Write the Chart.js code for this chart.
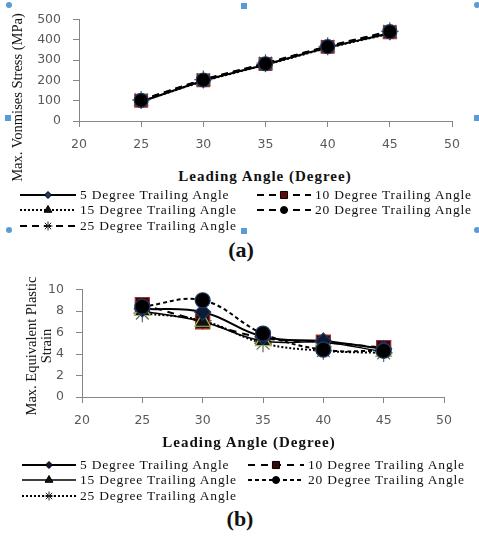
<!DOCTYPE html>
<html>
<head>
<meta charset="utf-8">
<script src="https://cdn.jsdelivr.net/npm/chart.js@4.4.1/dist/chart.umd.min.js"></script>
<style>
body { margin: 0; background: #fff; }
#fig { position: relative; width: 479px; height: 537px; overflow: hidden; font-family: "Liberation Serif", "Times New Roman", serif; color: #111; }
canvas.chart { position: absolute; left: 0; }
.ytitle { position: absolute; transform: rotate(-90deg); white-space: nowrap; font-size: 14.5px; text-align: center; line-height: 15px; }
.xtitle { position: absolute; font-weight: bold; font-size: 15px; letter-spacing: 1px; white-space: nowrap; transform: translate(-50%, -50%); }
.leg { position: absolute; height: 16px; display: flex; align-items: center; white-space: nowrap; font-size: 13.5px; letter-spacing: 0.8px; transform: translateY(-50%); }
.leg canvas { margin-right: 4px; }
.cap { position: absolute; font-weight: bold; font-size: 22px; transform: translate(-50%, -50%); }
.h { position: absolute; width: 6px; height: 6px; background: #5b9bd5; transform: translate(-50%, -50%); }
.h.c { border-radius: 50%; }
</style>
</head>
<body>
<div id="fig">
  <canvas id="chartA" class="chart" style="top:0" width="479" height="160"></canvas>
  <canvas id="chartB" class="chart" style="top:270px" width="479" height="165"></canvas>

  <div class="ytitle" style="left:-83px; top:90px; width:200px;">Max. Vonmises Stress (MPa)</div>
  <div class="ytitle" style="left:-41px; top:331px; width:160px; height:30px;">Max. Equivalent Plastic<br>Strain</div>
  <div class="xtitle" style="left:265px; top:176px;">Leading Angle (Degree)</div>
  <div class="xtitle" style="left:249px; top:442px;">Leading Angle (Degree)</div>

  <div id="legA"></div>
  <div id="legB"></div>

  <div class="cap" style="left:241px; top:250px;">(a)</div>
  <div class="cap" style="left:240px; top:519px;">(b)</div>

  <div class="h c" style="left:9px; top:5px;"></div>
  <div class="h" style="left:244px; top:6px;"></div>
  <div class="h c" style="left:477px; top:5px;"></div>
  <div class="h" style="left:8px; top:118px;"></div>
  <div class="h" style="left:477px; top:118px;"></div>
  <div class="h c" style="left:9px; top:230px;"></div>
  <div class="h" style="left:244px; top:231px;"></div>
  <div class="h c" style="left:477px; top:230px;"></div>
</div>

<script>
// data
const leadingAngle = [25, 30, 35, 40, 45];
const trailingNames = ["5 Degree Trailing Angle", "10 Degree Trailing Angle", "15 Degree Trailing Angle",
                       "20 Degree Trailing Angle", "25 Degree Trailing Angle"];

// (a) max von mises stress, MPa
const stress5  = [95, 198, 278, 362, 432];
const stress10 = [100, 200, 281, 365, 437];
const stress15 = [96, 196, 276, 360, 430];
const stress20 = [102, 202, 282, 366, 440];
const stress25 = [104, 204, 285, 368, 442];

// (b) max equivalent plastic strain
const strain5  = [8.2, 7.9, 5.6, 5.2, 4.5];
const strain10 = [8.6, 7.0, 5.5, 5.1, 4.6];
const strain15 = [8.0, 7.0, 5.2, 5.1, 4.2];
const strain20 = [8.4, 9.0, 5.9, 4.4, 4.3];
const strain25 = [7.8, 7.1, 5.0, 4.3, 4.1];

const xTicks = [20, 25, 30, 35, 40, 45, 50];
const stressTicks = [0, 100, 200, 300, 400, 500];
const strainTicks = [0, 2, 4, 6, 8, 10];

// line / marker styles
const stylesA = [
  { dash: [], width: 2, point: "rectRot", r: 6, fill: "#1f3864", edge: "#1f3864", order: 2 },
  { dash: [7, 5], width: 2, point: "rect", r: 9, fill: "#5e0b0b", edge: "#b03030", order: 3 },
  { dash: [2, 2], width: 2, point: "triangle", r: 8, fill: "#111", edge: "#9bbb59", order: 4 },
  { dash: [7, 5], width: 2, point: "circle", r: 7, fill: "#000", edge: "#1f3864", order: 0 },
  { dash: [7, 5], width: 2, point: "star", r: 9, fill: "#444", edge: "#555", order: 1 }
];
const stylesB = [
  { dash: [], width: 2, point: "rectRot", r: 8, fill: "#0d1a33", edge: "#1f3864", order: 1 },
  { dash: [7, 6], width: 2, point: "rect", r: 10, fill: "#3a0808", edge: "#a0302a", order: 3 },
  { dash: [], width: 1.5, point: "triangle", r: 9, fill: "#111", edge: "#9bbb59", order: 2 },
  { dash: [4, 3], width: 2, point: "circle", r: 7.5, fill: "#000", edge: "#1f3864", order: 0 },
  { dash: [2, 2], width: 2, point: "star", r: 9, fill: "#444", edge: "#666", order: 4 }
];

function makeChart(id, series, styles, yTicks, area, canvasH, tension) {
  const datasets = series.map((vals, i) => {
    const s = styles[i];
    return {
      label: trailingNames[i],
      data: leadingAngle.map((x, j) => ({ x: x, y: vals[j] })),
      borderColor: "#000",
      borderWidth: s.width,
      borderDash: s.dash,
      tension: tension,
      pointStyle: s.point,
      pointRadius: s.r,
      pointBackgroundColor: s.fill,
      pointBorderColor: s.edge,
      pointBorderWidth: 1.2,
      order: s.order,
      fill: false
    };
  });
  const tickFont = { family: "DejaVu Sans", size: 12.5 };
  return new Chart(document.getElementById(id), {
    type: "line",
    data: { datasets },
    options: {
      responsive: false,
      animation: false,
      layout: { padding: { left: 0, right: 479 - area.right, top: area.top, bottom: 0 } },
      plugins: { legend: { display: false }, tooltip: { enabled: false } },
      scales: {
        x: {
          type: "linear",
          min: xTicks[0], max: xTicks[xTicks.length - 1],
          afterBuildTicks: (s) => { s.ticks = xTicks.map(v => ({ value: v })); },
          afterFit: (s) => { s.height = canvasH - area.bottom; },
          ticks: { color: "#595959", font: tickFont, padding: 10 },
          grid: { drawOnChartArea: false, tickLength: 6, color: "#868686" },
          border: { color: "#868686" }
        },
        y: {
          min: yTicks[0], max: yTicks[yTicks.length - 1],
          afterBuildTicks: (s) => { s.ticks = yTicks.map(v => ({ value: v })); },
          afterFit: (s) => { s.width = area.left; },
          ticks: { color: "#595959", font: tickFont, padding: 12 },
          grid: { drawOnChartArea: false, tickLength: 6, color: "#868686" },
          border: { color: "#868686" }
        }
      }
    }
  });
}

makeChart("chartA", [stress5, stress10, stress15, stress20, stress25], stylesA, stressTicks,
  { left: 79, right: 452, top: 11, bottom: 121 }, 160, 0.2);
makeChart("chartB", [strain5, strain10, strain15, strain20, strain25], stylesB, strainTicks,
  { left: 82, right: 444, top: 17, bottom: 127 }, 165, 0.4);

// legend: line sample with a small marker, then the label
function drawSample(cv, s, markerR) {
  const ctx = cv.getContext("2d");
  const y = cv.height / 2;
  ctx.strokeStyle = "#000";
  ctx.lineWidth = s.width;
  ctx.setLineDash(s.dash);
  ctx.beginPath();
  ctx.moveTo(0, y);
  ctx.lineTo(cv.width, y);
  ctx.stroke();
  ctx.setLineDash([]);
  ctx.fillStyle = s.fill;
  ctx.strokeStyle = s.point === "star" ? "#222" : "#000";
  ctx.lineWidth = 1;
  Chart.helpers.drawPoint(ctx, { pointStyle: s.point, radius: markerR, rotation: 0, borderWidth: 1 }, cv.width / 2, y);
}

const legendSizes = { rectRot: 3.5, rect: 5, triangle: 4.5, circle: 3.5, star: 4.5 };

function buildLegend(hostId, styles, rows, cols) {
  const host = document.getElementById(hostId);
  styles.forEach((s, i) => {
    const row = Math.floor(i / 2), col = i % 2;
    const div = document.createElement("div");
    div.className = "leg";
    div.style.left = cols[col].x + "px";
    div.style.top = rows[row] + "px";
    const cv = document.createElement("canvas");
    cv.width = cols[col].w;
    cv.height = 12;
    div.appendChild(cv);
    div.appendChild(document.createTextNode(trailingNames[i]));
    host.appendChild(div);
    drawSample(cv, s, legendSizes[s.point]);
  });
}

buildLegend("legA", stylesA, [195, 210, 226], [{ x: 20, w: 56 }, { x: 257, w: 54 }]);
buildLegend("legB", stylesB, [465, 480, 496], [{ x: 22, w: 54 }, { x: 248, w: 56 }]);
</script>
</body>
</html>
